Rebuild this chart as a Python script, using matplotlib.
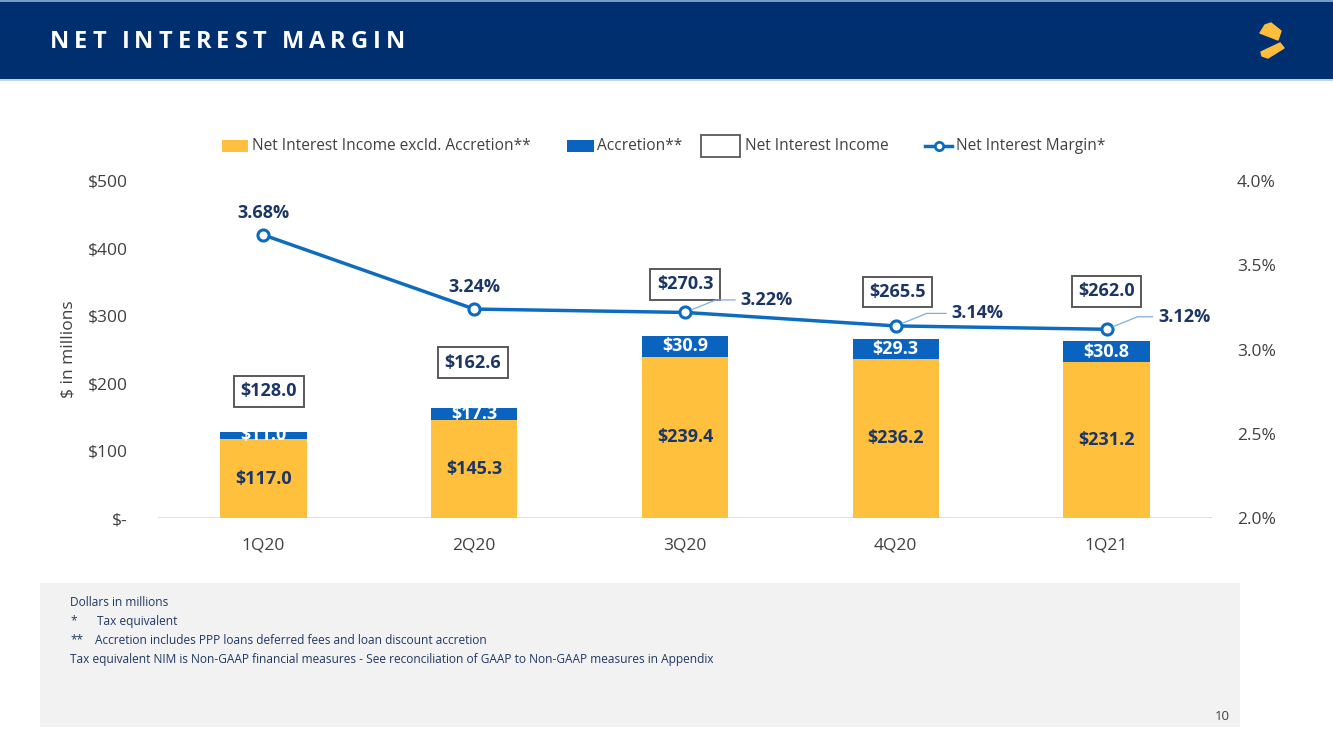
import matplotlib
matplotlib.use("Agg")
import matplotlib.pyplot as plt
from matplotlib.patches import Rectangle, Polygon
from matplotlib.lines import Line2D

plt.rcParams['font.family'] = ['Open Sans', 'DejaVu Sans']

# ---- data ----
quarters = ["1Q20", "2Q20", "3Q20", "4Q20", "1Q21"]
nii_excl = [117.0, 145.3, 239.4, 236.2, 231.2]
accretion = [11.0, 17.3, 30.9, 29.3, 30.8]
nii_total = [128.0, 162.6, 270.3, 265.5, 262.0]
nim = [3.68, 3.24, 3.22, 3.14, 3.12]
left_ticks = [0, 100, 200, 300, 400, 500]
left_labels = ["$-", "$100", "$200", "$300", "$400", "$500"]
right_ticks = [2.0, 2.5, 3.0, 3.5, 4.0]
right_labels = ["2.0%", "2.5%", "3.0%", "3.5%", "4.0%"]

# ---- layout (label offsets in points) ----
total_offsets = [(4, 29), (-1, 33), (0, 37), (1, 34), (0, 36)]
nim_offsets = [(0, 16), (0, 16), (59, 9), (59, 9), (56, 9)]
nim_leader = [False, False, True, True, True]

YELLOW = "#FFC03D"
BLUE = "#0A63BE"
LINE = "#0E6CC0"
NAVY_TXT = "#1B3565"
TICK = "#404040"
HEADER = "#002F6F"

W, H = 1333, 750
fig = plt.figure(figsize=(W / 100, H / 100), dpi=100)

def fx(px):
    return px / W

def fy(py):
    return 1 - py / H

# header band
fig.add_artist(Rectangle((0, fy(79)), 1, 79 / H, transform=fig.transFigure,
                         facecolor=HEADER, edgecolor='none', zorder=0))
fig.add_artist(Line2D([0, 1], [fy(1), fy(1)], transform=fig.transFigure, color="#8FB3DA", lw=1.2))
fig.add_artist(Line2D([0, 1], [fy(79.5), fy(79.5)], transform=fig.transFigure, color="#B8CCE4", lw=1.2))

# logo (stylised two-piece S)
logo_top = [(1265, 25), (1271, 23), (1281, 31), (1278, 40), (1260, 33)]
logo_bot = [(1280, 43), (1284, 48), (1268, 58), (1262, 56), (1261, 52)]
for poly in (logo_top, logo_bot):
    fig.add_artist(Polygon([(fx(x), fy(y)) for x, y in poly], closed=True,
                           transform=fig.transFigure, facecolor="#FDBE3E",
                           edgecolor="#FDBE3E", lw=1.0, joinstyle='round'))

# footnote panel
fig.add_artist(Rectangle((fx(40), fy(727)), fx(1240 - 40), (727 - 583) / H,
                         transform=fig.transFigure, facecolor="#F2F2F2",
                         edgecolor='none', zorder=0))
notes = [(70, 602, "Dollars in millions"),
         (70, 621, "*"), (97, 621, "Tax equivalent"),
         (70, 640, "**"), (95, 640, "Accretion includes PPP loans deferred fees and loan discount accretion"),
         (70, 660, "Tax equivalent NIM is Non-GAAP financial measures - See reconciliation of GAAP to Non-GAAP measures in Appendix")]
for x, y, t in notes:
    fig.text(fx(x), fy(y), t, fontsize=8.6, color="#1F3864", ha='left', va='center')
fig.text(fx(1222), fy(716), "10", fontsize=9.5, color="#404040", ha='center', va='center')

# ---- axes ----
ax = fig.add_axes([fx(158), fy(518), fx(1212 - 158), (518 - 181) / H])
ax2 = ax.twinx()
ax.set_zorder(ax2.get_zorder() + 1)
ax.patch.set_visible(False)

x = list(range(len(quarters)))
bw = 0.41
ax.bar(x, nii_excl, width=bw, color=YELLOW, zorder=2)
ax.bar(x, accretion, width=bw, bottom=nii_excl, color=BLUE, zorder=2)

ax.set_xlim(-0.5, len(quarters) - 0.5)
ax.set_ylim(0, 500)
ax.set_yticks(left_ticks)
ax.set_yticklabels(left_labels)
ax.set_xticks(x)
ax.set_xticklabels(quarters)
ax.tick_params(axis='y', length=0, pad=22, labelsize=12.5, labelcolor=TICK)
ax.tick_params(axis='x', length=0, pad=14, labelsize=12.5, labelcolor=TICK)
for s in ax.spines.values():
    s.set_visible(False)
ax.axhline(0, color="#D9D9D9", lw=1.2, zorder=1)
ax.set_ylabel("$ in millions", fontsize=12.5, color=TICK, labelpad=8)

ax2.set_ylim(2.0, 4.0)
ax2.set_yticks(right_ticks)
ax2.set_yticklabels(right_labels)
ax2.tick_params(axis='y', length=0, pad=18, labelsize=12.5, labelcolor=TICK)
for s in ax2.spines.values():
    s.set_visible(False)

# NIM line: values mapped through the right axis scale onto the bar axes so it draws above bars
nim_scaled = [ax.transData.inverted().transform(ax2.transData.transform((0, v)))[1] for v in nim]
ax.plot(x, nim_scaled, color=LINE, lw=2.5, marker='o', markersize=8,
        markerfacecolor='white', markeredgecolor=LINE, markeredgewidth=2.2, zorder=5)

# bar labels
for i in x:
    ax.text(i, nii_excl[i] / 2, f"${nii_excl[i]:.1f}", ha='center', va='center',
            fontsize=13, fontweight='bold', color=NAVY_TXT, zorder=4)
    ax.text(i, nii_excl[i] + accretion[i] / 2, f"${accretion[i]:.1f}", ha='center', va='center',
            fontsize=13, fontweight='bold', color='white', zorder=4)
    dx, dy = total_offsets[i]
    ax.annotate(f"${nii_total[i]:.1f}", (i, nii_total[i]), xytext=(dx, dy),
                textcoords='offset points', ha='center', va='center',
                fontsize=13, fontweight='bold', color=NAVY_TXT, zorder=6,
                bbox=dict(boxstyle='square,pad=0.35', facecolor='white',
                          edgecolor='#595959', lw=1.4))
    dx, dy = nim_offsets[i]
    if nim_leader[i]:
        ax.annotate(f"{nim[i]:.2f}%", (i, nim_scaled[i]), xytext=(dx, dy),
                    textcoords='offset points', ha='center', va='center',
                    fontsize=13, fontweight='bold', color=NAVY_TXT, zorder=6,
                    arrowprops=dict(arrowstyle='-', color="#7FAEE0", lw=0.9,
                                    shrinkA=2, shrinkB=5,
                                    connectionstyle="angle,angleA=0,angleB=22,rad=0"))
    else:
        ax.annotate(f"{nim[i]:.2f}%", (i, nim_scaled[i]), xytext=(dx, dy),
                    textcoords='offset points', ha='center', va='center',
                    fontsize=13, fontweight='bold', color=NAVY_TXT, zorder=6)

# ---- legend (manual) ----
ly = fy(146)
fig.add_artist(Rectangle((fx(222), fy(152)), fx(26), 12 / H, transform=fig.transFigure,
                         facecolor=YELLOW, edgecolor='none'))
fig.text(fx(252), ly, "Net Interest Income excld. Accretion**", fontsize=11.2, color=TICK, va='center')
fig.add_artist(Rectangle((fx(567), fy(152)), fx(27), 12 / H, transform=fig.transFigure,
                         facecolor=BLUE, edgecolor='none'))
fig.text(fx(597), ly, "Accretion**", fontsize=11.2, color=TICK, va='center')
fig.add_artist(Rectangle((fx(701), fy(157)), fx(39), 22 / H, transform=fig.transFigure,
                         facecolor='white', edgecolor='#595959', lw=1.3))
fig.text(fx(745), ly, "Net Interest Income", fontsize=11.2, color=TICK, va='center')
fig.add_artist(Line2D([fx(925), fx(952)], [ly, ly], transform=fig.transFigure, color=LINE, lw=2.5))
fig.add_artist(Line2D([fx(938.5)], [ly], transform=fig.transFigure, color=LINE, marker='o',
                      markersize=6, markerfacecolor='white', markeredgewidth=2))
fig.text(fx(956), ly, "Net Interest Margin*", fontsize=11.2, color=TICK, va='center')

# ---- title with letter spacing ----
title = "NET INTEREST MARGIN"
renderer = fig.canvas.get_renderer()
widths = []
for ch in title:
    if ch == " ":
        widths.append(None)
        continue
    t = fig.text(0, 0, ch, fontsize=17, fontweight='bold')
    widths.append(t.get_window_extent(renderer).width)
    t.remove()
space_w = 5.0
wsum = sum(w if w is not None else space_w for w in widths)
track = (405 - 50 - wsum) / (len(title) - 1)
cx = 50.0
for ch, w in zip(title, widths):
    if w is None:
        cx += space_w + track
        continue
    fig.text(fx(cx), fy(42), ch, fontsize=17, fontweight='bold', color='white',
             ha='left', va='center')
    cx += w + track

fig.savefig("out.png", dpi=100)
